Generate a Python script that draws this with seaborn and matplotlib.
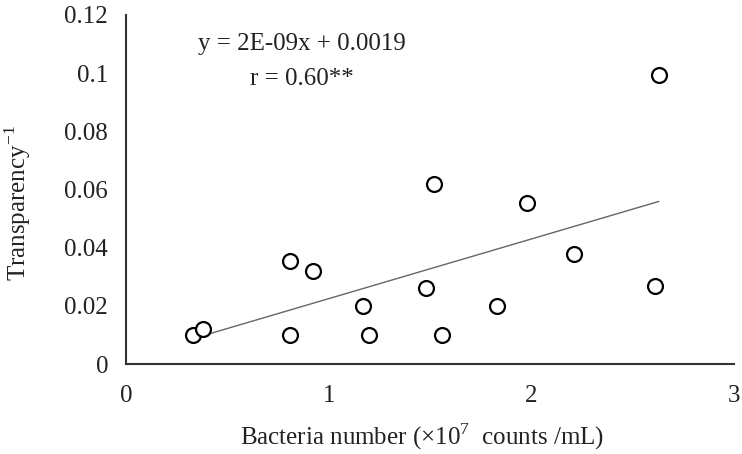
import numpy as np
import pandas as pd
import matplotlib
matplotlib.use("Agg")
import matplotlib.pyplot as plt
import seaborn as sns

# Data (x in 10^7 counts/mL)
bacteria = [0.33, 0.38, 0.81, 0.81, 0.92, 1.17, 1.20, 1.48, 1.52, 1.56, 1.83, 1.98, 2.21, 2.61, 2.63]
transp_inv = [0.010, 0.012, 0.010, 0.0355, 0.032, 0.020, 0.010, 0.026, 0.062, 0.010, 0.020, 0.0555, 0.038, 0.027, 0.0995]

# Trend line as drawn (printed rounded as y = 2E-09x + 0.0019, x in counts)
fit_slope_per_count = 2.05e-09
fit_intercept = 0.0020
eq_text = "y = 2E-09x + 0.0019"
r_text = "r = 0.60**"

x_ticks = [0, 1, 2, 3]
y_ticks = [0, 0.02, 0.04, 0.06, 0.08, 0.1, 0.12]
y_tick_labels = ["0", "0.02", "0.04", "0.06", "0.08", "0.1", "0.12"]

sns.set_theme(style="white")
plt.rcParams["font.family"] = ["Liberation Serif", "DejaVu Serif"]
plt.rcParams["mathtext.fontset"] = "custom"
plt.rcParams["mathtext.rm"] = "Liberation Serif"

df = pd.DataFrame({"x": bacteria, "y": transp_inv})
fit_x = np.array([min(bacteria), max(bacteria)])
fit_df = pd.DataFrame({"x": fit_x, "y": fit_slope_per_count * 1e7 * fit_x + fit_intercept})

fig = plt.figure(figsize=(7.42, 4.54), dpi=100)
ax = fig.add_axes([0.170, 0.198, 0.819, 0.769])

sns.lineplot(data=fit_df, x="x", y="y", ax=ax, color="#666666", linewidth=1.0)
sns.scatterplot(data=df, x="x", y="y", ax=ax, s=115, facecolor="white",
                edgecolor="black", linewidth=1.6, zorder=3)

ax.set_xlim(0, 3)
ax.set_ylim(0, 0.12)
ax.set_xticks(x_ticks)
ax.set_xticklabels([str(t) for t in x_ticks])
ax.set_yticks(y_ticks)
ax.set_yticklabels(y_tick_labels)

for s in ["top", "right"]:
    ax.spines[s].set_visible(False)
for s in ["left", "bottom"]:
    ax.spines[s].set_color("#333333")
    ax.spines[s].set_linewidth(1.5)

fs = 18
ax.tick_params(axis="both", which="major", direction="out", length=5, width=1.5,
               color="#333333", labelsize=fs, labelcolor="#222222", pad=8)
ax.tick_params(axis="x", pad=10)

ax.set_xlabel("Bacteria number (×10$^{7}$  counts /mL)", fontsize=18, color="#222222")
ax.set_ylabel("Transparency$^{\\mathregular{-1}}$", fontsize=18, color="#222222")
ax.xaxis.label.set_va("center")
ax.yaxis.label.set_va("center")
ax.xaxis.set_label_coords(0.487, -0.207)
ax.yaxis.set_label_coords(-0.178, 0.461)

ax.text(0.868, 0.110, eq_text, fontsize=fs, ha="center", va="center", color="#222222")
ax.text(0.868, 0.098, r_text, fontsize=fs, ha="center", va="center", color="#222222")

fig.savefig("out.png", dpi=100)
